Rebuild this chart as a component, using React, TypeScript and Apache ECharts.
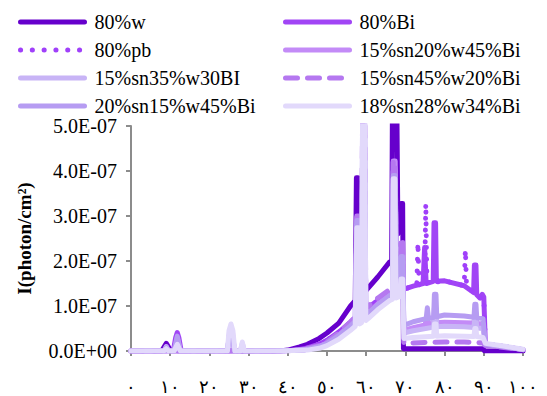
import React, { useEffect, useRef } from "react";
import * as echarts from "echarts";

type Pt = [number, number];

// Values in units of 1E-07 photon/cm², energy on x
const seriesNames = [
  "80%w",
  "80%Bi",
  "80%pb",
  "15%sn20%w45%Bi",
  "15%sn35%w30BI",
  "15%sn45%w20%Bi",
  "20%sn15%w45%Bi",
  "18%sn28%w34%Bi",
];

const w80: Pt[] = [
  [0, 0], [7.8, 0], [8.5, 0.1], [9.0, 0.17], [9.5, 0.1], [10.2, 0], [38, 0], [40, 0.02], [43, 0.09], [45, 0.15],
  [48, 0.28], [50, 0.4], [53, 0.62], [56, 1.0], [57.2, 1.12], [57.5, 3.85], [57.9, 3.85], [58.2, 1.18], [60.5, 1.4],
  [63, 1.65], [66, 1.98], [66.5, 2.0], [66.7, 5.6], [67.8, 5.6], [68.1, 2.6], [68.6, 2.9], [68.9, 3.28], [69.3, 3.28],
  [69.5, 0.05], [89.8, 0.05], [90.2, 0], [100, 0],
];

const bi80: Pt[] = [
  [0, 0], [10.8, 0], [11.4, 0.3], [11.8, 0.41], [12.2, 0.3], [12.8, 0], [38, 0], [42, 0.02], [45, 0.07], [48, 0.15],
  [50, 0.24], [53, 0.42], [56, 0.64], [58, 0.8], [60.5, 0.97], [63, 1.12], [66, 1.27], [69.5, 1.37], [72, 1.44],
  [74.5, 1.5], [74.9, 2.3], [75.3, 1.5], [77.1, 1.55], [77.3, 2.85], [77.7, 2.85], [77.9, 1.55], [80, 1.56], [85, 1.45],
  [87.4, 1.3], [87.6, 1.91], [88.0, 1.91], [88.2, 1.25], [89, 1.18], [89.6, 1.26], [90, 1.2], [90.4, 0.15], [95, 0.1],
  [100, 0.03],
];

const pb80: Pt[] = [
  [0, 0], [38, 0], [42, 0.02], [45, 0.07], [48, 0.15], [50, 0.24], [53, 0.42], [56, 0.64], [58, 0.8], [60.5, 0.97],
  [63, 1.12], [66, 1.27], [69.5, 1.37], [72, 1.44], [72.9, 1.46], [73.2, 2.41], [73.5, 1.47], [74.9, 1.5], [75.2, 3.28],
  [75.5, 1.5], [80, 1.56], [85.0, 1.45], [85.3, 2.25], [85.6, 1.44], [89, 1.18], [90, 1.2], [90.4, 0.15], [95, 0.1],
  [100, 0.03],
];

const sn15w20bi45: Pt[] = [
  [0, 0], [8.4, 0], [9, 0.08], [9.6, 0], [11, 0], [11.8, 0.3], [12.6, 0], [24.6, 0], [25.1, 0.35], [25.5, 0.5],
  [25.9, 0.35], [26.4, 0], [38, 0], [44, 0.02], [48, 0.1], [50, 0.18], [53, 0.35], [56, 0.58], [57.2, 0.68],
  [57.6, 2.96], [58.0, 2.96], [58.3, 0.72], [58.8, 0.75], [59.1, 4.4], [59.6, 4.4], [59.9, 0.8], [60.5, 0.85],
  [63, 1.05], [66, 1.25], [66.7, 1.28], [66.9, 4.22], [67.4, 4.22], [67.7, 1.3], [68.7, 1.35], [68.9, 2.2],
  [69.3, 2.2], [69.6, 0.46], [72, 0.52], [75, 0.58], [75.5, 0.75], [76, 0.6], [77.2, 0.62], [77.4, 0.95], [77.8, 0.95],
  [78, 0.63], [80, 0.64], [85, 0.63], [87.5, 0.62], [87.7, 0.85], [88, 0.85], [88.2, 0.61], [89.8, 0.6], [90.4, 0.15],
  [95, 0.1], [100, 0.03],
];

const sn15w35bi30: Pt[] = [
  [0, 0], [8.4, 0], [9, 0.1], [9.6, 0], [11, 0], [11.8, 0.22], [12.6, 0], [24.6, 0], [25.1, 0.4], [25.5, 0.55],
  [25.9, 0.4], [26.4, 0], [27.9, 0], [28.4, 0.17], [28.9, 0], [38, 0], [44, 0.02], [48, 0.09], [50, 0.16], [53, 0.32],
  [56, 0.53], [57.2, 0.62], [57.6, 2.8], [58, 2.8], [58.3, 0.66], [58.8, 0.7], [59.1, 5.6], [59.6, 5.6], [59.9, 0.75],
  [60.5, 0.8], [63, 1.0], [66, 1.2], [66.7, 1.22], [66.9, 4.0], [67.4, 4.0], [67.7, 1.25], [68.7, 1.3], [68.9, 2.0],
  [69.3, 2.0], [69.6, 0.4], [72, 0.45], [77.2, 0.53], [77.4, 0.85], [77.8, 0.85], [78, 0.54], [80, 0.55], [85, 0.54],
  [87.5, 0.52], [87.7, 0.75], [88, 0.75], [88.2, 0.51], [89.8, 0.5], [90.4, 0.15], [95, 0.1], [100, 0.03],
];

const sn15w45bi20: Pt[] = [
  [0, 0], [38, 0], [43, 0.02], [48, 0.12], [50, 0.2], [53, 0.4], [56, 0.65], [57.2, 0.76], [57.6, 3.0], [58, 3.0],
  [58.3, 0.8], [58.8, 0.85], [59.1, 5.6], [59.6, 5.6], [59.9, 0.95], [60.5, 1.0], [63, 1.18], [66, 1.37], [66.7, 1.4],
  [66.9, 4.22], [67.4, 4.22], [67.7, 1.42], [68.7, 1.45], [68.9, 2.5], [69.3, 2.5], [69.6, 0.17], [75, 0.19], [80, 0.2],
  [85, 0.2], [89.8, 0.18], [90.4, 0.12], [100, 0.03],
];

const sn20w15bi45: Pt[] = [
  [0, 0], [8.4, 0], [9, 0.07], [9.6, 0], [11, 0], [11.8, 0.33], [12.6, 0], [24.6, 0], [25.1, 0.35], [25.5, 0.48],
  [25.9, 0.35], [26.4, 0], [38, 0], [44, 0.02], [48, 0.1], [50, 0.17], [53, 0.34], [56, 0.56], [57.2, 0.66],
  [57.6, 2.9], [58, 2.9], [58.3, 0.7], [58.8, 0.73], [59.1, 4.8], [59.6, 4.8], [59.9, 0.78], [60.5, 0.83], [63, 1.03],
  [66, 1.23], [66.7, 1.26], [66.9, 3.9], [67.4, 3.9], [67.7, 1.28], [68.7, 1.33], [68.9, 2.1], [69.3, 2.1],
  [69.6, 0.57], [72, 0.65], [75.3, 0.72], [75.6, 0.96], [75.9, 0.72], [77.2, 0.75], [77.4, 1.26], [77.8, 1.26],
  [78, 0.76], [80, 0.8], [85, 0.78], [87.5, 0.75], [87.7, 1.04], [88, 1.04], [88.2, 0.74], [89.8, 0.72], [90.4, 0.15],
  [95, 0.1], [100, 0.03],
];

const sn18w28bi34: Pt[] = [
  [0, 0], [8.4, 0], [9, 0.05], [9.6, 0], [11, 0], [11.8, 0.15], [12.6, 0], [24.6, 0], [25.0, 0.45], [25.5, 0.6],
  [26.0, 0.45], [26.5, 0], [27.9, 0], [28.4, 0.2], [28.9, 0], [38, 0], [45, 0.02], [48, 0.06], [50, 0.12], [53, 0.26],
  [56, 0.46], [57.2, 0.55], [57.6, 2.74], [58, 2.74], [58.3, 0.6], [58.8, 0.63], [59.1, 5.6], [59.6, 5.6], [59.9, 0.68],
  [60.5, 0.72], [63, 0.92], [66, 1.12], [66.7, 1.15], [66.9, 3.83], [67.3, 3.83], [67.6, 1.18], [68.7, 1.22],
  [68.9, 1.6], [69.3, 1.6], [69.6, 0.28], [72, 0.3], [77.2, 0.33], [77.4, 0.6], [77.8, 0.6], [78, 0.33], [80, 0.34],
  [85, 0.33], [87.5, 0.32], [87.7, 0.5], [88, 0.5], [88.2, 0.32], [89.8, 0.3], [90.4, 0.17], [95, 0.11], [100, 0.04],
];

const seriesData: Pt[][] = [w80, bi80, pb80, sn15w20bi45, sn15w35bi30, sn15w45bi20, sn20w15bi45, sn18w28bi34];

const xTickLabels = ["٠", "١٠", "٢٠", "٣٠", "٤٠", "٥٠", "٦٠", "٧٠", "٨٠", "٩٠", "١٠٠"];
const yTickLabels = ["0.0E+00", "1.0E-07", "2.0E-07", "3.0E-07", "4.0E-07", "5.0E-07"];

const colors = ["#6600CC", "#A145F5", "#A040FA", "#C38BF7", "#C8B4F6", "#B578F0", "#B69CF2", "#E2D9FB"];
const dashes: (string | number[])[] = ["solid", "solid", [0.1, 11.7], "solid", "solid", [12, 10], "solid", "solid"];

const FONT = "Liberation Serif";

export default function App() {
  const ref = useRef<HTMLDivElement>(null);
  useEffect(() => {
    if (!ref.current) return;
    const chart = echarts.init(ref.current, undefined, { renderer: "svg" });
    const legendCommon = {
      orient: "vertical" as const,
      top: 7,
      itemWidth: 64,
      itemHeight: 14,
      itemGap: 8,
      lineStyle: { width: 5 },
      itemStyle: { opacity: 0, borderWidth: 0, color: "rgba(0,0,0,0)" },
      textStyle: { fontFamily: FONT, fontSize: 20, color: "#000", lineHeight: 20, padding: [0, 0, 0, 5] },
    };
    chart.setOption({
      animation: false,
      backgroundColor: "#fff",
      legend: [
        { ...legendCommon, left: 13, data: [seriesNames[0], seriesNames[2], seriesNames[4], seriesNames[6]] },
        { ...legendCommon, left: 278, data: [seriesNames[1], seriesNames[3], seriesNames[5], seriesNames[7]] },
      ],
      grid: { left: 131, right: 24, top: 126, bottom: 40, containLabel: false },
      xAxis: {
        type: "value",
        min: 0,
        max: 100,
        interval: 10,
        splitLine: { show: false },
        axisLine: { show: true, lineStyle: { color: "#8c8c8c", width: 2 } },
        axisTick: { show: true, inside: false, length: 5, lineStyle: { color: "#8c8c8c", width: 2 } },
        axisLabel: {
          margin: 27,
          fontFamily: FONT,
          fontSize: 18,
          color: "#000",
          formatter: (v: number) => xTickLabels[Math.round(v / 10)] ?? "",
        },
      },
      yAxis: {
        type: "value",
        min: 0,
        max: 5,
        interval: 1,
        name: "I(photon/cm²)",
        nameLocation: "middle",
        nameRotate: 90,
        nameGap: 97,
        nameTextStyle: { fontFamily: FONT, fontSize: 19, fontWeight: "bold", color: "#000" },
        splitLine: { show: false },
        axisLine: { show: true, lineStyle: { color: "#8c8c8c", width: 2 } },
        axisTick: { show: true, inside: false, length: 5, lineStyle: { color: "#8c8c8c", width: 2 } },
        axisLabel: {
          margin: 14,
          fontFamily: FONT,
          fontSize: 20,
          color: "#000",
          formatter: (v: number) => yTickLabels[Math.round(v)] ?? "",
        },
      },
      series: seriesNames.map((name, i) => ({
        name,
        type: "line",
        data: seriesData[i],
        symbol: "none",
        clip: true,
        color: colors[i],
        lineStyle: { color: colors[i], width: 5, type: dashes[i], cap: "round", join: "round" },
      })),
    });
    return () => chart.dispose();
  }, []);
  return <div ref={ref} style={{ width: 547, height: 396, position: "absolute", left: 0, top: 0 }} />;
}
